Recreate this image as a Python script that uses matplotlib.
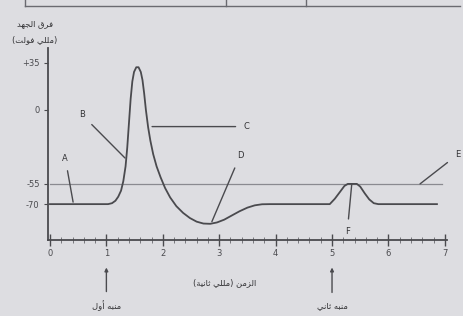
import matplotlib
matplotlib.use("Agg")
import matplotlib.pyplot as plt
from matplotlib.lines import Line2D

# Datos del potencial de acción (tiempo en ms, voltaje en mV)
tiempo_ms = [0.0, 1.03, 1.10, 1.16, 1.21, 1.26, 1.30, 1.34, 1.37, 1.40, 1.43,
             1.46, 1.49, 1.53, 1.57, 1.61, 1.64, 1.67, 1.70, 1.74, 1.78, 1.83,
             1.89, 1.96, 2.04, 2.13, 2.24, 2.36, 2.48, 2.60, 2.72, 2.84, 2.96,
             3.09, 3.22, 3.36, 3.50, 3.63, 3.76, 3.90, 4.96, 5.05, 5.14, 5.22,
             5.28, 5.44, 5.50, 5.58, 5.66, 5.74, 5.82, 6.86]
voltaje_mv = [-70, -70, -69.3, -67.5, -64.5, -60, -53, -42, -28, -10, 8,
              21, 28, 31.5, 31.5, 28, 22, 12, 0, -13, -23, -33,
              -42, -50, -58, -65, -71.5, -76.5, -80.3, -83, -84.4, -84.6, -83.6,
              -81.5, -78.5, -75.3, -72.6, -70.9, -70.1, -70, -70, -66, -61, -56.5,
              -55, -55, -57, -62, -66.5, -69.3, -70, -70]

umbral_mv = -55
ticks_y = [35, 0, -55, -70]
etiquetas_y = ["+35", "0", "-55", "-70"]
ticks_x = [0, 1, 2, 3, 4, 5, 6, 7]

# letras: (texto, posición del texto, punto señalado)
letras = ["A", "B", "C", "D", "E", "F"]
pos_letras = [(0.27, -35.8), (0.57, -3.8), (3.49, -12.5), (3.37, -34), (7.22, -33.5), (5.27, -90.5)]
punto_letras = [(0.41, -68.5), (1.33, -35.8), (1.81, -12.5), (2.87, -83), (6.56, -55), (5.35, -55)]


# mini "reshaper" para escribir árabe con formas de presentación
FORMAS = {
    'ا': (0xFE8D, 0xFE8E, None, None), 'أ': (0xFE83, 0xFE84, None, None),
    'ب': (0xFE8F, 0xFE90, 0xFE91, 0xFE92), 'ت': (0xFE95, 0xFE96, 0xFE97, 0xFE98),
    'ث': (0xFE99, 0xFE9A, 0xFE9B, 0xFE9C), 'ج': (0xFE9D, 0xFE9E, 0xFE9F, 0xFEA0),
    'د': (0xFEA9, 0xFEAA, None, None), 'ر': (0xFEAD, 0xFEAE, None, None),
    'ز': (0xFEAF, 0xFEB0, None, None), 'ف': (0xFED1, 0xFED2, 0xFED3, 0xFED4),
    'ق': (0xFED5, 0xFED6, 0xFED7, 0xFED8), 'ل': (0xFEDD, 0xFEDE, 0xFEDF, 0xFEE0),
    'م': (0xFEE1, 0xFEE2, 0xFEE3, 0xFEE4), 'ن': (0xFEE5, 0xFEE6, 0xFEE7, 0xFEE8),
    'ه': (0xFEE9, 0xFEEA, 0xFEEB, 0xFEEC), 'و': (0xFEED, 0xFEEE, None, None),
    'ي': (0xFEF1, 0xFEF2, 0xFEF3, 0xFEF4), 'ة': (0xFE93, 0xFE94, None, None),
}


def arabe(texto):
    salida = []
    for i, c in enumerate(texto):
        if c not in FORMAS:
            salida.append({'(': ')', ')': '('}.get(c, c))
            continue
        prev = texto[i - 1] if i > 0 else ''
        sig = texto[i + 1] if i + 1 < len(texto) else ''
        une_prev = prev in FORMAS and FORMAS[prev][2] is not None
        une_sig = sig in FORMAS and FORMAS[c][2] is not None
        iso, fin, ini, med = FORMAS[c]
        if une_prev and une_sig:
            cod = med
        elif une_prev:
            cod = fin
        elif une_sig:
            cod = ini
        else:
            cod = iso
        salida.append(chr(cod))
    return ''.join(reversed(salida))


color_linea = '#4a4a4e'
fondo = '#dddde1'

fig = plt.figure(figsize=(4.63, 3.16), dpi=100, facecolor=fondo)
W, H = 463, 316
ax = fig.add_axes([48 / W, 1 - 240 / H, (455 - 48) / W, (240 - 45) / H])
ax.set_facecolor(fondo)
ax.set_xlim(-0.035, 7.18)
ax.set_ylim(-96.6, 48)

for s in ['top', 'right']:
    ax.spines[s].set_visible(False)
ax.spines['left'].set_bounds(-96.6, 46)
ax.spines['bottom'].set_bounds(-0.035, 7.03)
for s in ['left', 'bottom']:
    ax.spines[s].set_color(color_linea)
    ax.spines[s].set_linewidth(1.3)

# umbral
ax.plot([0, 6.95], [umbral_mv, umbral_mv], color='#8a8a90', lw=0.9)

# curva
ax.plot(tiempo_ms, voltaje_mv, color=color_linea, lw=1.3, solid_joinstyle='round')

ax.set_yticks(ticks_y)
ax.set_yticklabels(etiquetas_y)
ax.set_xticks(ticks_x)
ax.set_xticks([i * 0.2 for i in range(36)], minor=True)
ax.tick_params(axis='x', which='major', direction='inout', length=9, width=1.0,
               colors=color_linea, labelsize=6, pad=2)
ax.tick_params(axis='x', which='minor', direction='inout', length=4, width=0.7, colors='#77777c')
ax.tick_params(axis='y', direction='out', length=3, width=0.8, colors=color_linea, labelsize=6, pad=3)

for letra, (tx, ty), (px, py) in zip(letras, pos_letras, punto_letras):
    ax.annotate(letra, xy=(px, py), xytext=(tx, ty), fontsize=6, color='#333336',
                ha='center', va='center', annotation_clip=False,
                arrowprops=dict(arrowstyle='-', color=color_linea, lw=1.0, shrinkA=4, shrinkB=0))

# estímulos
for t, txt in [(1, 'منبه أول'), (5, 'منبه ثاني')]:
    ax.annotate(arabe(txt), xy=(t, -117), xytext=(t, -145), fontsize=6, color='#333336',
                ha='center', va='center', annotation_clip=False,
                arrowprops=dict(arrowstyle='-|>', color=color_linea, lw=1.0,
                                mutation_scale=5, shrinkA=4, shrinkB=0))

ax.text(3.1, -128, arabe('الزمن (مللي ثانية)'), fontsize=6, color='#333336',
        ha='center', va='center', clip_on=False)

fig.text(35 / W, 1 - 24 / H, arabe('فرق الجهد'), fontsize=6, color='#333336', ha='center', va='center')
fig.text(35 / W, 1 - 40 / H, arabe('(مللي فولت)'), fontsize=6, color='#333336', ha='center', va='center')

# borde de la tabla superior
for linea in [
    [(25, 460), (6, 6)], [(25, 25), (0, 6)], [(226, 226), (0, 6)], [(306, 306), (0, 6)],
]:
    xs = [v / W for v in linea[0]]
    ys = [1 - v / H for v in linea[1]]
    fig.add_artist(Line2D(xs, ys, color='#6a6a70', lw=1.0))

fig.savefig('out.png', dpi=100, facecolor=fondo)
